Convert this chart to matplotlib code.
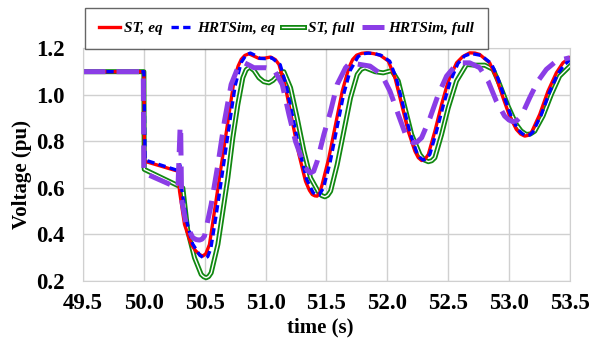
import numpy as np
import matplotlib
matplotlib.use('Agg')
import matplotlib.pyplot as plt
import matplotlib.patheffects as pe

# ST, eq
t_st_eq = [49.5, 50.0, 50.005, 50.28, 50.293, 50.334, 50.389, 50.425, 50.457, 50.484, 50.51,
           50.539, 50.58, 50.621, 50.662, 50.703, 50.744, 50.775, 50.80, 50.83, 50.863, 50.90,
           50.945, 50.99, 51.041, 51.08, 51.11, 51.164, 51.219, 51.274, 51.328, 51.36, 51.383,
           51.405, 51.424, 51.445, 51.465, 51.52, 51.575, 51.63, 51.684, 51.715, 51.748,
           51.79, 51.83, 51.885, 51.94, 52.008, 52.063, 52.118, 52.172, 52.227, 52.255,
           52.282, 52.31, 52.337, 52.391, 52.446, 52.501, 52.569, 52.62, 52.677, 52.72,
           52.759, 52.841, 52.896, 52.951, 53.005, 53.06, 53.095, 53.129, 53.155, 53.183,
           53.252, 53.32, 53.389, 53.443, 53.5]
v_st_eq = [1.10, 1.10, 0.715, 0.672, 0.586, 0.443, 0.357, 0.33, 0.314, 0.307, 0.318,
           0.357, 0.50, 0.644, 0.787, 0.93, 1.074, 1.125, 1.153, 1.17, 1.177, 1.168,
           1.157, 1.158, 1.163, 1.152, 1.131, 1.031, 0.887, 0.744, 0.629, 0.59, 0.572,
           0.566, 0.565, 0.58, 0.615, 0.73, 0.873, 1.016, 1.117, 1.152, 1.171,
           1.179, 1.181, 1.178, 1.171, 1.146, 1.074, 0.959, 0.844, 0.758, 0.73,
           0.718, 0.724, 0.744, 0.844, 0.959, 1.06, 1.138, 1.165, 1.181, 1.18,
           1.174, 1.138, 1.074, 0.988, 0.909, 0.852, 0.832, 0.823, 0.826, 0.837,
           0.916, 1.016, 1.095, 1.138, 1.16]

# HRTSim, eq
t_hrt_eq = [49.5, 50.0, 50.01, 50.28, 50.295, 50.31, 50.35, 50.40, 50.46, 50.50, 50.525,
            50.55, 50.59, 50.63, 50.67, 50.71, 50.75, 50.80, 50.84, 50.875, 50.915, 50.955,
            51.0, 51.05, 51.12, 51.17, 51.225, 51.28, 51.335, 51.39, 51.415, 51.44, 51.475,
            51.53, 51.585, 51.64, 51.695, 51.76, 51.80, 51.845, 51.90, 51.95, 52.02, 52.075,
            52.13, 52.185, 52.24, 52.27, 52.295, 52.32, 52.35, 52.405, 52.46, 52.515, 52.58,
            52.635, 52.69, 52.77, 52.855, 52.91, 52.965, 53.02, 53.075, 53.11, 53.14, 53.17,
            53.195, 53.265, 53.335, 53.40, 53.455, 53.5]
v_hrt_eq = [1.10, 1.10, 0.72, 0.675, 0.70, 0.60, 0.46, 0.36, 0.31, 0.297, 0.305,
            0.34, 0.47, 0.61, 0.755, 0.90, 1.04, 1.14, 1.172, 1.18, 1.17, 1.157,
            1.156, 1.16, 1.13, 1.04, 0.90, 0.76, 0.64, 0.58, 0.571, 0.57, 0.60,
            0.71, 0.855, 1.0, 1.105, 1.165, 1.177, 1.18, 1.177, 1.17, 1.145, 1.07,
            0.955, 0.84, 0.755, 0.73, 0.72, 0.726, 0.745, 0.845, 0.955, 1.055, 1.135,
            1.168, 1.178, 1.17, 1.135, 1.07, 0.985, 0.905, 0.85, 0.833, 0.825, 0.828,
            0.84, 0.915, 1.015, 1.09, 1.13, 1.15]

# ST, full
t_st_full = [49.5, 50.0, 50.003, 50.32, 50.361, 50.416, 50.471, 50.492, 50.512, 50.532,
             50.553, 50.608, 50.649, 50.69, 50.731, 50.772, 50.813, 50.84, 50.868, 50.905,
             50.945, 50.985, 51.027, 51.06, 51.096, 51.15, 51.205, 51.26, 51.315, 51.369,
             51.438, 51.462, 51.487, 51.51, 51.534, 51.588, 51.643, 51.698, 51.753, 51.785,
             51.817, 51.899, 51.967, 52.036, 52.09, 52.145, 52.2, 52.268, 52.305, 52.337,
             52.365, 52.391, 52.446, 52.501, 52.569, 52.651, 52.718, 52.80, 52.869, 52.923,
             52.992, 53.06, 53.10, 53.142, 53.175, 53.211, 53.279, 53.348, 53.416, 53.5]
v_st_full = [1.10, 1.10, 0.68, 0.60, 0.414, 0.30, 0.228, 0.218, 0.214, 0.219,
             0.235, 0.357, 0.50, 0.644, 0.816, 0.959, 1.074, 1.108, 1.12, 1.105,
             1.074, 1.057, 1.052, 1.062, 1.081, 1.10, 1.031, 0.90, 0.758, 0.644,
             0.579, 0.567, 0.562, 0.568, 0.586, 0.70, 0.844, 0.988, 1.088, 1.11,
             1.117, 1.10, 1.095, 1.105, 1.06, 0.945, 0.83, 0.744, 0.72, 0.713,
             0.717, 0.73, 0.83, 0.945, 1.06, 1.131, 1.128, 1.128, 1.11, 1.045,
             0.952, 0.873, 0.845, 0.83, 0.832, 0.844, 0.909, 1.002, 1.081, 1.124]

# HRTSim, full
t_hrt_full = [49.5, 49.995, 50.0, 50.28, 50.298, 50.302, 50.31, 50.348, 50.402, 50.43,
              50.457, 50.478, 50.498, 50.553, 50.608, 50.662, 50.717, 50.772, 50.80, 50.826,
              50.865, 50.904, 51.0, 51.068, 51.137, 51.192, 51.246, 51.315, 51.345, 51.369,
              51.395, 51.424, 51.479, 51.534, 51.588, 51.657, 51.693, 51.776, 51.858, 51.953,
              52.022, 52.09, 52.145, 52.18, 52.213, 52.245, 52.282, 52.35, 52.419, 52.487,
              52.556, 52.62, 52.677, 52.759, 52.828, 52.896, 52.964, 53.0, 53.033, 53.065,
              53.101, 53.17, 53.238, 53.307, 53.389, 53.5]
v_hrt_full = [1.10, 1.10, 0.665, 0.60, 0.866, 0.866, 0.55, 0.443, 0.386, 0.378,
              0.376, 0.38, 0.393, 0.529, 0.70, 0.887, 1.045, 1.117, 1.132, 1.138,
              1.128, 1.117, 1.117, 1.11, 1.045, 0.916, 0.80, 0.70, 0.675, 0.665,
              0.672, 0.715, 0.83, 0.93, 1.045, 1.117, 1.138, 1.131, 1.124, 1.088,
              1.016, 0.916, 0.837, 0.808, 0.794, 0.798, 0.816, 0.90, 1.002, 1.081,
              1.124, 1.138, 1.138, 1.117, 1.06, 0.973, 0.909, 0.892, 0.885, 0.89,
              0.909, 0.988, 1.06, 1.11, 1.146, 1.16]

x_ticks = [49.5, 50.0, 50.5, 51.0, 51.5, 52.0, 52.5, 53.0, 53.5]
y_ticks = [0.2, 0.4, 0.6, 0.8, 1.0, 1.2]

plt.rcParams['font.family'] = ['Liberation Serif', 'DejaVu Serif']

fig = plt.figure(figsize=(5.93, 3.41), dpi=100)
ax = fig.add_axes([0.140, 0.176, 0.821, 0.682])

# double green line = thick green with a thin white core
ax.plot(t_st_full, v_st_full, color='white', lw=1.0, label='ST, full',
        solid_joinstyle='round',
        path_effects=[pe.Stroke(linewidth=3.6, foreground='#118811'), pe.Normal()])
ax.plot(t_st_eq, v_st_eq, color='#ff0000', lw=2.4, solid_joinstyle='round', label='ST, eq')
ax.plot(t_hrt_eq, v_hrt_eq, color='#0000ff', lw=2.4, dashes=(2.2, 1.3),
        dash_joinstyle='round', label='HRTSim, eq')
ax.plot(t_hrt_full, v_hrt_full, color='#8b3de6', lw=3.6, dashes=(4.5, 2.2),
        dash_joinstyle='round', label='HRTSim, full')

ax.set_xlim(49.5, 53.5)
ax.set_ylim(0.2, 1.2)
ax.set_xticks(x_ticks)
ax.set_yticks(y_ticks)
ax.set_xticklabels(['%.1f' % v for v in x_ticks])
ax.set_yticklabels(['%.1f' % v for v in y_ticks])
ax.tick_params(length=0, labelsize=16.5)
ax.tick_params(axis='y', pad=13)
ax.tick_params(axis='x', pad=9)
for lab in ax.get_xticklabels() + ax.get_yticklabels():
    lab.set_fontweight('bold')
ax.grid(True, color='#d0d0d0', lw=1.0)
for s in ax.spines.values():
    s.set_color('#d0d0d0')

ax.set_xlabel('time (s)', fontsize=15, fontweight='bold')
ax.set_ylabel('Voltage (pu)', fontsize=15, fontweight='bold')
ax.xaxis.set_label_coords(0.487, -0.155)
ax.yaxis.set_label_coords(-0.105, 0.456)

h, l = ax.get_legend_handles_labels()
order = [1, 2, 0, 3]
leg = fig.legend([h[i] for i in order], [l[i] for i in order], ncol=4,
                 loc='center', bbox_to_anchor=(0.483, 0.917), frameon=True,
                 fancybox=False, edgecolor='#404040', handlelength=1.4,
                 columnspacing=0.5, handletextpad=0.3, borderpad=0.9,
                 borderaxespad=0.0,
                 prop={'family': 'Liberation Serif', 'weight': 'bold',
                       'style': 'italic', 'size': 11})
leg.get_frame().set_linewidth(1.0)

fig.savefig('out.png', dpi=100)
